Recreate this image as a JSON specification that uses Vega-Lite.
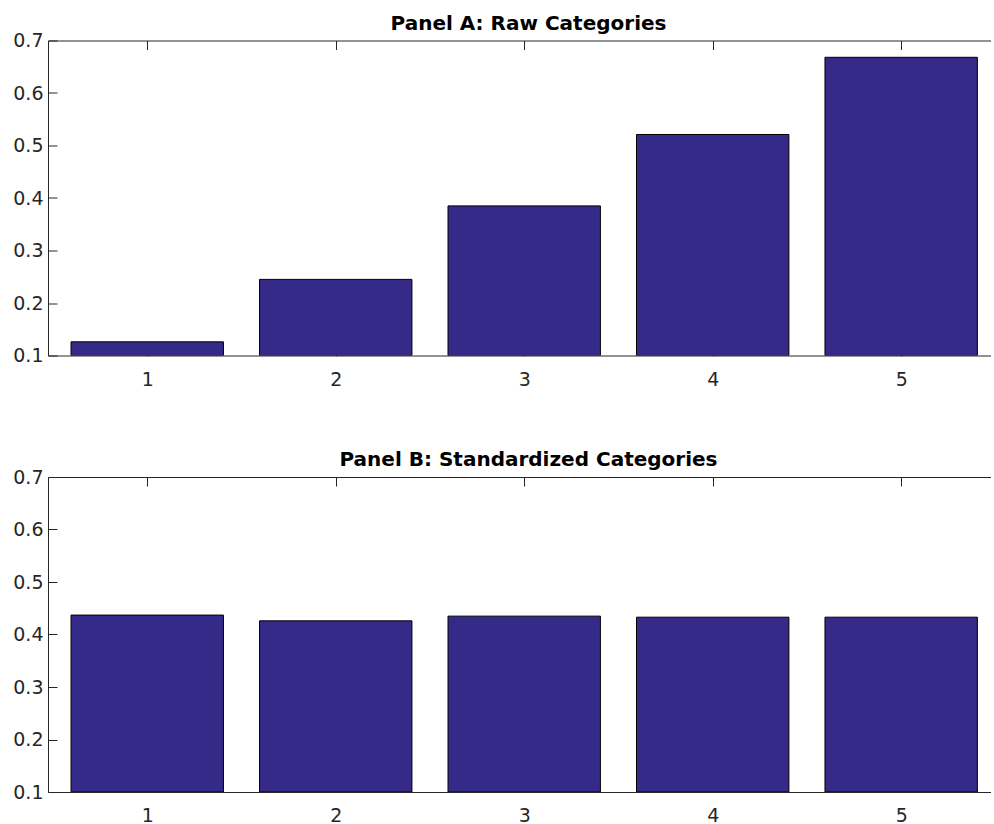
{
  "$schema": "https://vega.github.io/schema/vega-lite/v6.json",
  "background": "white",
  "padding": {"left": 12, "top": 13.5, "right": 0, "bottom": 0},
  "spacing": 60.5,
  "datasets": {
    "panelA": [
      {"category": 1, "value": 0.126},
      {"category": 2, "value": 0.245},
      {"category": 3, "value": 0.385},
      {"category": 4, "value": 0.521},
      {"category": 5, "value": 0.668}
    ],
    "panelB": [
      {"category": 1, "value": 0.437},
      {"category": 2, "value": 0.426},
      {"category": 3, "value": 0.435},
      {"category": 4, "value": 0.433},
      {"category": 5, "value": 0.433}
    ]
  },
  "config": {
    "view": {"stroke": null},
    "font": "DejaVu Sans",
    "axis": {
      "labelFont": "DejaVu Sans",
      "labelFontSize": 19,
      "labelColor": "#262626",
      "domainColor": "#262626",
      "tickColor": "#262626",
      "domainWidth": 1,
      "tickWidth": 1,
      "grid": false,
      "title": null
    },
    "title": {
      "font": "DejaVu Sans",
      "fontSize": 20,
      "fontWeight": "bold",
      "color": "#000000",
      "anchor": "middle",
      "baseline": "alphabetic",
      "offset": 10,
      "dx": 9,
      "dy": 12
    }
  },
  "vconcat": [
    {
      "title": "Panel A: Raw Categories",
      "width": 943,
      "height": 315,
      "data": {"name": "panelA"},
      "layer": [
        {
          "mark": {"type": "bar", "width": 152.4, "color": "#352a87", "stroke": "#000000", "strokeWidth": 1, "clip": true},
          "encoding": {
            "x": {"field": "category", "type": "quantitative", "scale": {"domain": [0.5, 5.45], "nice": false, "zero": false},
                  "axis": {"orient": "bottom", "values": [1, 2, 3, 4, 5], "format": "d", "tickSize": -9, "labelPadding": 23.5, "zindex": 0}},
            "y": {"field": "value", "type": "quantitative", "scale": {"domain": [0.1, 0.7], "nice": false, "zero": false},
                  "axis": {"orient": "left", "values": [0.1, 0.2, 0.3, 0.4, 0.5, 0.6, 0.7], "format": ".1f", "tickSize": -9, "labelPadding": 14, "zindex": 1}},
            "y2": {"datum": 0.1}
          }
        },
        {
          "mark": {"type": "point", "opacity": 0},
          "encoding": {
            "x": {"field": "category", "type": "quantitative",
                  "axis": {"orient": "top", "values": [1, 2, 3, 4, 5], "labels": false, "tickSize": -9, "zindex": 1}}
          }
        }
      ]
    },
    {
      "title": "Panel B: Standardized Categories",
      "width": 943,
      "height": 315,
      "data": {"name": "panelB"},
      "layer": [
        {
          "mark": {"type": "bar", "width": 152.4, "color": "#352a87", "stroke": "#000000", "strokeWidth": 1, "clip": true},
          "encoding": {
            "x": {"field": "category", "type": "quantitative", "scale": {"domain": [0.5, 5.45], "nice": false, "zero": false},
                  "axis": {"orient": "bottom", "values": [1, 2, 3, 4, 5], "format": "d", "tickSize": -9, "labelPadding": 23.5, "zindex": 0}},
            "y": {"field": "value", "type": "quantitative", "scale": {"domain": [0.1, 0.7], "nice": false, "zero": false},
                  "axis": {"orient": "left", "values": [0.1, 0.2, 0.3, 0.4, 0.5, 0.6, 0.7], "format": ".1f", "tickSize": -9, "labelPadding": 14, "zindex": 1}},
            "y2": {"datum": 0.1}
          }
        },
        {
          "mark": {"type": "point", "opacity": 0},
          "encoding": {
            "x": {"field": "category", "type": "quantitative",
                  "axis": {"orient": "top", "values": [1, 2, 3, 4, 5], "labels": false, "tickSize": -9, "zindex": 1}}
          }
        }
      ]
    }
  ]
}
